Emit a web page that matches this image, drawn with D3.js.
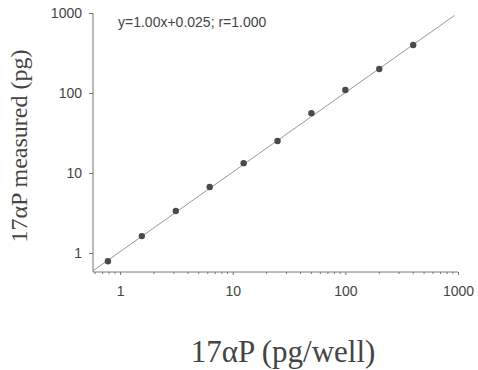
<!DOCTYPE html>
<html>
<head>
<meta charset="utf-8">
<script src="https://cdn.jsdelivr.net/npm/d3@7"></script>
<style>
  body { margin: 0; background: #fff; }
  svg { display: block; }
</style>
</head>
<body>
<div id="chart"></div>
<script>
const addedPg = [0.78, 1.56, 3.125, 6.25, 12.5, 25, 50, 100, 200, 400];
const measuredPg = [0.79, 1.63, 3.35, 6.7, 13.3, 25.1, 56, 109, 200, 398];
const tickValues = [1, 10, 100, 1000];
const fitSlope = 1.0;
const fitIntercept = 0.025;
const fitRange = [0.575, 930];
const annotation = "y=1.00x+0.025; r=1.000";

const width = 478, height = 370;
const svg = d3.select("#chart").append("svg")
  .attr("width", width).attr("height", height);

const x = d3.scaleLog().domain([0.575, 1000]).range([93, 458]);
const y = d3.scaleLog().domain([0.58, 1000]).range([272, 13]);

const axisColor = "#777";
const textColor = "#444";

// x axis
const xAxis = svg.append("g").attr("transform", "translate(0,272)")
  .call(d3.axisBottom(x).tickValues(tickValues).tickFormat(d3.format("d"))
    .tickSize(3).tickPadding(11));
const xMinor = x.ticks().filter(d => !tickValues.includes(d));
svg.append("g").selectAll("line").data(xMinor).join("line")
  .attr("x1", d => x(d)).attr("x2", d => x(d))
  .attr("y1", 272).attr("y2", 274)
  .attr("stroke", axisColor).attr("stroke-width", 1);

// y axis
const yAxis = svg.append("g").attr("transform", "translate(93,0)")
  .call(d3.axisLeft(y).tickValues(tickValues).tickFormat(d3.format("d"))
    .tickSize(4).tickPadding(7));

[xAxis, yAxis].forEach(g => {
  g.select(".domain").attr("stroke", axisColor).attr("stroke-width", 1);
  g.selectAll(".tick line").attr("stroke", axisColor);
  g.selectAll("text").attr("fill", textColor)
    .attr("font-family", "Liberation Sans, Arial, sans-serif")
    .attr("font-size", 14);
});
xAxis.select(".domain").attr("d", `M93,0H458`);
yAxis.select(".domain").attr("d", `M0,272V13`);

// fit line
svg.append("line")
  .attr("x1", x(fitRange[0])).attr("y1", y(fitSlope * fitRange[0] + fitIntercept))
  .attr("x2", x(fitRange[1])).attr("y2", y(fitSlope * fitRange[1] + fitIntercept))
  .attr("stroke", "#999").attr("stroke-width", 1);

// points
svg.append("g").selectAll("circle").data(addedPg).join("circle")
  .attr("cx", d => x(d))
  .attr("cy", (d, i) => y(measuredPg[i]))
  .attr("r", 3.2)
  .attr("fill", "#4a4a4a");

// annotation
svg.append("text")
  .attr("x", 118).attr("y", 27)
  .attr("font-family", "Liberation Sans, Arial, sans-serif")
  .attr("font-size", 14).attr("fill", textColor)
  .text(annotation);

// axis titles
svg.append("text")
  .attr("transform", "translate(27,146) rotate(-90)")
  .attr("text-anchor", "middle")
  .attr("font-family", "Liberation Serif, Times New Roman, serif")
  .attr("font-size", 24).attr("fill", textColor)
  .text("17\u03b1P measured (pg)");

svg.append("text")
  .attr("x", 283).attr("y", 362)
  .attr("text-anchor", "middle")
  .attr("font-family", "Liberation Serif, Times New Roman, serif")
  .attr("font-size", 31).attr("fill", textColor)
  .text("17\u03b1P (pg/well)");
</script>
</body>
</html>
